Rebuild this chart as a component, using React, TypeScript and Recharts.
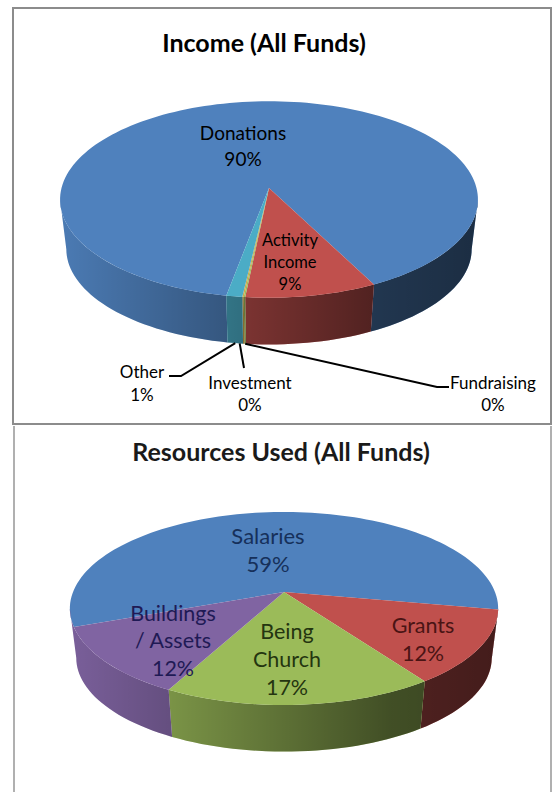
import React from 'react'
import { PieChart, Pie } from 'recharts'

const incomeNames = ['Donations', 'Activity\nIncome', 'Fundraising', 'Investment', 'Other']
const incomeValues = [89.6, 9.1, 0.1, 0.1, 1.1]
const incomeColors = ['#4f81bd', '#c0504d', '#9bbb59', '#d0a848', '#4bacc6']

const usedNames = ['Salaries', 'Grants', 'Being\nChurch', 'Buildings\n/ Assets']
const usedValues = [58.6, 12.4, 17.4, 11.6]
const usedColors = ['#4f81bd', '#c0504d', '#9bbb59', '#8064a2']

// where each label sits: text centre, first line y, line gap, font size, colour, optional leader elbows
const incomeLabels = [
  { x: 243, y: 133, gap: 26, size: 19, color: '#000' },
  { x: 290, y: 240, gap: 22, size: 16.5, color: '#000' },
  { x: 493, y: 383, gap: 22, size: 17, color: '#000', leader: [[437, 387], [449, 387]] },
  { x: 250, y: 383, gap: 22, size: 17, color: '#000', leader: [[244, 368]], leaderFrom: -97.4 },
  { x: 142, y: 372, gap: 23, size: 17, color: '#000', leader: [[181, 376], [169, 376]] },
]
const usedLabels = [
  { x: 268, y: 536, gap: 28, size: 22, color: '#16305a' },
  { x: 423, y: 625, gap: 28, size: 21.5, color: '#4a1414' },
  { x: 287, y: 631, gap: 28, size: 21.5, color: '#243510' },
  { x: 173, y: 613, gap: 27.5, size: 21.5, color: '#1f1a55' },
]

const FONT = 'Lato, Carlito, sans-serif'

type Geo = { k: number; squash: number; depth: number; floor: number; shadeId: string; overhang?: number[] }
const incomeGeo: Geo = { k: 0.117, squash: 0.467, depth: 50, floor: 0.97, shadeId: 'shadeIncome' }
// Buildings' wall runs on to the pie's left edge, Salaries shows no wall on that side
const usedGeo: Geo = { k: 0.171, squash: 0.444, depth: 50, floor: 0.97, shadeId: 'shadeUsed', overhang: [0, 0, 0, 11] }

// projects a point of the pie's rim onto the page with a bit of perspective
const project = (cx: number, cy: number, r: number, geo: Geo, deg: number, down = false) => {
  const t = (deg * Math.PI) / 180
  const w = 1 + geo.k * Math.sin(t)
  const s = down ? geo.floor : 1
  return {
    x: cx + (s * r * Math.cos(t)) / w,
    y: cy - (s * r * geo.squash * Math.sin(t)) / w + (down ? geo.depth : 0),
  }
}

const rim = (cx: number, cy: number, r: number, geo: Geo, from: number, to: number, down = false) => {
  const steps = Math.max(2, Math.ceil(Math.abs(from - to) / 2))
  const pts = []
  for (let i = 0; i <= steps; i++) {
    const p = project(cx, cy, r, geo, from + ((to - from) * i) / steps, down)
    pts.push(`${p.x.toFixed(2)} ${p.y.toFixed(2)}`)
  }
  return pts
}

const makeSlice = (geo: Geo) => (props: any) => {
  const { cx, cy, outerRadius, startAngle, endAngle, fill, index } = props
  const top = rim(cx, cy, outerRadius, geo, startAngle, endAngle)
  const face = `M${cx} ${cy}L${top.join('L')}Z`

  // the wall only shows on the near side of the rim
  const edge = (Math.asin(geo.k) * 180) / Math.PI
  const wallEnd = endAngle - (geo.overhang?.[index] ?? 0)
  const hidden = geo.overhang ? geo.overhang[geo.overhang.length - 1] : 0
  const wallStart = index === 0 ? startAngle - hidden : startAngle
  const walls: string[] = []
  for (let turn = -2; turn <= 1; turn++) {
    const hi = Math.min(wallStart, -edge + 360 * turn)
    const lo = Math.max(wallEnd, -180 + edge + 360 * turn)
    if (hi > lo) {
      const upper = rim(cx, cy, outerRadius, geo, hi, lo)
      const lower = rim(cx, cy, outerRadius, geo, lo, hi, true)
      walls.push(`M${upper.join('L')}L${lower.join('L')}Z`)
    }
  }
  return (
    <g>
      {walls.map((d, i) => (
        <g key={i}>
          <path d={d} fill={fill} />
          <path d={d} fill={`url(#${geo.shadeId})`} />
        </g>
      ))}
      <path d={face} fill={fill} />
    </g>
  )
}

const makeLabel = (geo: Geo, layout: any[]) => (props: any) => {
  const { cx, cy, outerRadius, midAngle, percent, index, name } = props
  const spot = layout[index]
  const lines = [...String(name).split('\n'), `${Math.round(percent * 100)}%`]
  let leader = null
  if (spot.leader) {
    const from = project(cx, cy, outerRadius, geo, spot.leaderFrom ?? midAngle, true)
    const pts = [[from.x, from.y], ...spot.leader].map((p: number[]) => p.join(',')).join(' ')
    leader = <polyline points={pts} fill="none" stroke="#000" strokeWidth={2} />
  }
  return (
    <g key={index}>
      {leader}
      <text textAnchor="middle" fontFamily={FONT} fontSize={spot.size} fill={spot.color}>
        {lines.map((line, i) => (
          <tspan key={i} x={spot.x} y={spot.y + i * spot.gap + spot.size * 0.35}>
            {line}
          </tspan>
        ))}
      </text>
    </g>
  )
}

const toRows = (names: string[], values: number[], colors: string[]) =>
  names.map((name, i) => ({ name, value: values[i], fill: colors[i] }))

const Shade = ({ id, x1, x2 }: { id: string; x1: number; x2: number }) => (
  <linearGradient id={id} gradientUnits="userSpaceOnUse" x1={x1} x2={x2} y1={0} y2={0}>
    <stop offset="0" stopColor="#000" stopOpacity={0.05} />
    <stop offset="0.4" stopColor="#000" stopOpacity={0.33} />
    <stop offset="0.75" stopColor="#000" stopOpacity={0.58} />
    <stop offset="1" stopColor="#000" stopOpacity={0.65} />
  </linearGradient>
)

export default function App() {
  return (
    <div style={{ position: 'absolute', left: 0, top: 0, width: 553, height: 792, background: '#fff' }}>
      <PieChart width={553} height={792} margin={{ top: 0, right: 0, bottom: 0, left: 0 }}>
        <defs>
          <Shade id="shadeIncome" x1={60} x2={480} />
          <Shade id="shadeUsed" x1={70} x2={498} />
        </defs>
        <rect x={13} y={8} width={538} height={416} fill="none" stroke="#8c8c8c" strokeWidth={2} />
        <path d="M14 426V792M551 426V792" fill="none" stroke="#b0b0b0" strokeWidth={2} />
        <text x={264} y={52} textAnchor="middle" fontFamily={FONT} fontWeight={700} fontSize={25} fill="#000">
          Income (All Funds)
        </text>
        <text x={281} y={461} textAnchor="middle" fontFamily={FONT} fontWeight={700} fontSize={25} fill="#1a1a1a">
          Resources Used (All Funds)
        </text>
        <Pie
          data={toRows(incomeNames, incomeValues, incomeColors)}
          dataKey="value"
          nameKey="name"
          cx={269}
          cy={188}
          outerRadius={207.5}
          startAngle={-100.5}
          endAngle={-460.5}
          stroke="none"
          isAnimationActive={false}
          shape={makeSlice(incomeGeo)}
          label={makeLabel(incomeGeo, incomeLabels)}
          labelLine={false}
        />
        <Pie
          data={toRows(usedNames, usedValues, usedColors)}
          dataKey="value"
          nameKey="name"
          cx={284}
          cy={592}
          outerRadius={211}
          startAngle={-159.4}
          endAngle={-519.4}
          stroke="none"
          isAnimationActive={false}
          shape={makeSlice(usedGeo)}
          label={makeLabel(usedGeo, usedLabels)}
          labelLine={false}
        />
      </PieChart>
    </div>
  )
}
